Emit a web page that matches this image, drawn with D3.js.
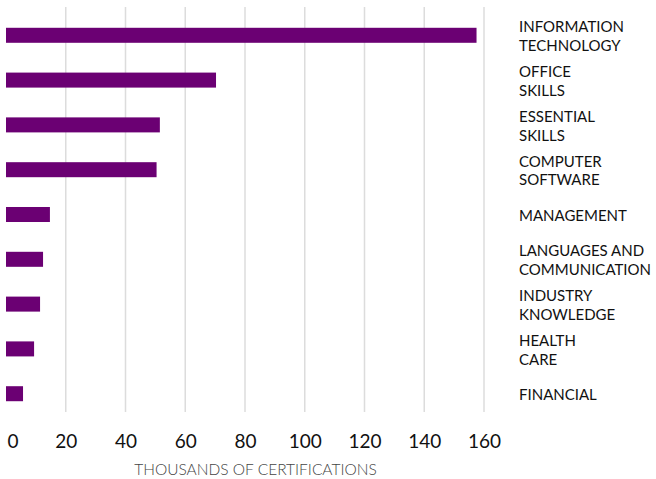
<!DOCTYPE html>
<html>
<head>
<meta charset="utf-8">
<script src="https://cdn.jsdelivr.net/npm/d3@7"></script>
<style>
  html, body { margin: 0; padding: 0; background: #fff; }
  svg { display: block; }
</style>
</head>
<body>
<svg id="chart" width="656" height="479"></svg>
<script>
// Certifications by category, in thousands
const categories = [
  ["INFORMATION", "TECHNOLOGY"],
  ["OFFICE", "SKILLS"],
  ["ESSENTIAL", "SKILLS"],
  ["COMPUTER", "SOFTWARE"],
  ["MANAGEMENT"],
  ["LANGUAGES AND", "COMMUNICATION"],
  ["INDUSTRY", "KNOWLEDGE"],
  ["HEALTH", "CARE"],
  ["FINANCIAL"]
];
const values = [157.5, 70.3, 51.5, 50.4, 14.7, 12.4, 11.4, 9.4, 5.7];
const tickValues = [0, 20, 40, 60, 80, 100, 120, 140, 160];
const axisTitle = "THOUSANDS OF CERTIFICATIONS";

const svg = d3.select("#chart");
const font = "Lato, 'Noto Sans', sans-serif";
const barColor = "#6b0073";

const keys = categories.map((d, i) => i);
const x = d3.scaleLinear().domain([0, 160]).range([6, 484]);
const y = d3.scaleBand().domain(keys).range([13, 416]).paddingInner(0.665).paddingOuter(0.33);

// vertical gridlines (none at zero)
svg.append("g")
  .selectAll("line")
  .data(tickValues.filter(t => t > 0))
  .join("line")
  .attr("x1", d => x(d)).attr("x2", d => x(d))
  .attr("y1", 7).attr("y2", 412)
  .attr("stroke", "#dcdcdc")
  .attr("stroke-width", 1.5);

// bars
svg.append("g")
  .selectAll("rect")
  .data(values)
  .join("rect")
  .attr("x", x(0))
  .attr("y", (d, i) => y(i))
  .attr("width", d => x(d) - x(0))
  .attr("height", y.bandwidth())
  .attr("fill", barColor);

// category labels on the right, vertically centred on each bar
const fontSize = 15;
const lineH = 18.5;
const capShift = fontSize * 0.36;
const lab = svg.append("g")
  .selectAll("text")
  .data(categories)
  .join("text")
  .attr("x", 519)
  .attr("y", (d, i) => y(i) + y.bandwidth() / 2 - (d.length - 1) * lineH / 2 + capShift + 1)
  .attr("font-family", font)
  .attr("font-size", fontSize)
  .attr("fill", "#111");
lab.selectAll("tspan")
  .data(d => d)
  .join("tspan")
  .attr("x", 519)
  .attr("dy", (d, i) => i === 0 ? 0 : lineH)
  .text(d => d);

// bottom axis: labels only
const axis = d3.axisBottom(x).tickValues(tickValues).tickSize(0).tickPadding(0);
const ax = svg.append("g")
  .attr("transform", "translate(0,448)")
  .call(axis);
ax.select(".domain").remove();
ax.selectAll("text")
  .attr("dy", 0)
  .attr("font-family", font)
  .attr("font-size", 19)
  .attr("fill", "#111")
  .attr("text-anchor", d => d === 0 ? "start" : "middle")
  .attr("dx", d => d === 0 ? 1 : 0);

// axis title
svg.append("text")
  .attr("x", 255.5)
  .attr("y", 475)
  .attr("text-anchor", "middle")
  .attr("font-family", font)
  .attr("font-weight", 300)
  .attr("font-size", 15.5)
  .attr("fill", "#444")
  .text(axisTitle);
</script>
</body>
</html>
